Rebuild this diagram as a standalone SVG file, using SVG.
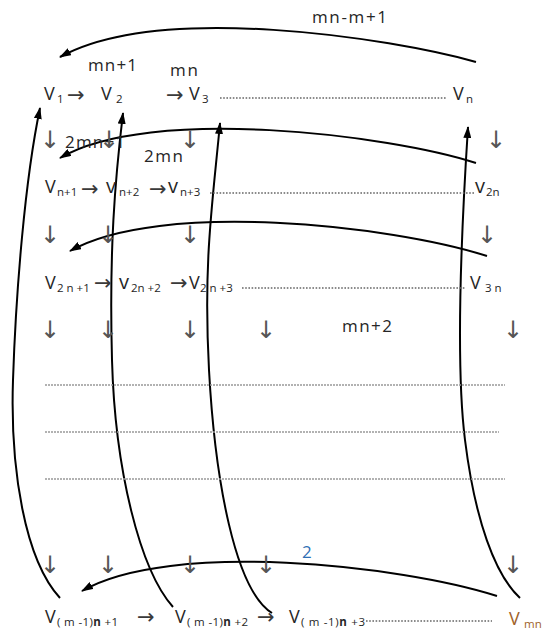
<svg xmlns="http://www.w3.org/2000/svg" width="544" height="631" viewBox="0 0 544 631">
<defs>
<marker id="ah" markerUnits="userSpaceOnUse" markerWidth="12" markerHeight="8" refX="11" refY="4" orient="auto">
<path d="M0,0 L12,4 L0,8 z" fill="#000"/>
</marker>
<style>
.v{font-family:"Open Sans","Noto Sans",sans-serif;font-size:18px;fill:#262626}
.s{font-family:"Open Sans","Noto Sans",sans-serif;font-size:11.5px;fill:#262626}
.ar{font-family:"DejaVu Sans",sans-serif;font-size:21px;fill:#3a3a3a}
.dn{font-family:"DejaVu Sans",sans-serif;font-size:24px;fill:#555;text-anchor:middle}
.lb{font-family:"Open Sans","Noto Sans",sans-serif;font-size:17px;fill:#262626}
.dot{stroke:#666;stroke-width:1.6;stroke-dasharray:1.6 1.6;fill:none}
.grid{stroke:#999;stroke-width:1.4;stroke-dasharray:2 1;fill:none}
.c{stroke:#000;stroke-width:2;fill:none;marker-end:url(#ah)}
</style>
</defs>
<rect width="544" height="631" fill="#fff"/>

<g id="connectors">
<path class="c" d="M476,62 C390,38 160,2 60,57"/>
<path class="c" d="M476,163 C390,135 150,105 60,158"/>
<path class="c" d="M487,256 C390,225 160,200 70,251"/>
<path class="c" d="M497,596 C400,565 170,540 82,591"/>
<path class="c" d="M60,598 C25,560 10,470 13,380 S25,180 40,108"/>
<path class="c" d="M173,607 C140,570 115,470 112,360 S115,180 123,113"/>
<path class="c" d="M272,613 C235,590 215,480 209,370 S213,200 220,123"/>
<path class="c" d="M520,598 C495,575 475,520 465,440 S462,220 468,127"/>
</g>

<g id="labels">
<text class="lb" x="312" y="23" textLength="75">mn-m+1</text>
<text class="lb" x="88" y="71" textLength="49">mn+1</text>
<text class="lb" x="170" y="76" textLength="28">mn</text>
<text class="lb" x="65" y="148" textLength="60">2mn+1</text>
<text class="lb" x="144" y="162" textLength="39">2mn</text>
<text class="lb" x="342" y="332" textLength="50">mn+2</text>
<text class="lb" x="302" y="558" style="fill:#2f6fb5">2</text>
</g>

<g id="row1">
<g id="v1"><text class="v" x="44" y="100">V</text><text class="s" x="57" y="103">1</text></g>
<text class="ar" x="67" y="102">→</text>
<g id="v2"><text class="v" x="101" y="100">V</text><text class="s" x="116" y="103">2</text></g>
<text class="ar" x="166" y="102">→</text>
<g id="v3"><text class="v" x="189" y="100">V</text><text class="s" x="202" y="103">3</text></g>
<line class="dot" x1="220" y1="98" x2="447" y2="98"/>
<g id="vn"><text class="v" x="453" y="100">V</text><text class="s" x="466" y="103">n</text></g>
</g>

<g id="down1">
<text class="dn" x="50" y="148">↓</text>
<text class="dn" x="109" y="148">↓</text>
<text class="dn" x="190" y="148">↓</text>
<text class="dn" x="496" y="148">↓</text>
</g>

<g id="row2">
<g id="vn1"><text class="v" x="45" y="193">V</text><text class="s" x="57" y="196">n+1</text></g>
<text class="ar" x="81" y="196">→</text>
<g id="vn2"><text class="v" x="106" y="193" style="font-size:20px">v</text><text class="s" x="119" y="196">n+2</text></g>
<text class="ar" x="149" y="196">→</text>
<g id="vn3"><text class="v" x="168" y="193" style="font-size:20px">v</text><text class="s" x="180" y="196">n+3</text></g>
<line class="dot" x1="210" y1="193" x2="474" y2="193"/>
<g id="v2n"><text class="v" x="475" y="193" style="font-size:20px">v</text><text class="s" x="486" y="196">2n</text></g>
</g>

<g id="down2">
<text class="dn" x="50" y="243">↓</text>
<text class="dn" x="108" y="243">↓</text>
<text class="dn" x="190" y="243">↓</text>
<text class="dn" x="487" y="243">↓</text>
</g>

<g id="row3">
<g id="v2n1"><text class="v" x="45" y="289">V</text><text class="s" x="57" y="292" xml:space="preserve">2 n +1</text></g>
<text class="ar" x="94" y="290">→</text>
<g id="v2n2"><text class="v" x="119" y="289" style="font-size:20px">v</text><text class="s" x="131" y="292" xml:space="preserve">2n +2</text></g>
<text class="ar" x="170" y="290">→</text>
<g id="v2n3"><text class="v" x="189" y="289">V</text><text class="s" x="200" y="292" xml:space="preserve">2 n +3</text></g>
<line class="dot" x1="242" y1="288" x2="465" y2="288"/>
<g id="v3n"><text class="v" x="470" y="289">V</text><text class="s" x="485" y="292" xml:space="preserve">3 n</text></g>
</g>

<g id="down3">
<text class="dn" x="50" y="338">↓</text>
<text class="dn" x="108" y="338">↓</text>
<text class="dn" x="190" y="338">↓</text>
<text class="dn" x="266" y="338">↓</text>
<text class="dn" x="513" y="338">↓</text>
</g>

<g id="gridlines">
<line class="grid" x1="45" y1="385" x2="505" y2="385"/>
<line class="grid" x1="45" y1="432" x2="499" y2="432"/>
<line class="grid" x1="45" y1="479" x2="505" y2="479"/>
</g>

<g id="down4">
<text class="dn" x="50" y="573">↓</text>
<text class="dn" x="108" y="573">↓</text>
<text class="dn" x="190" y="573">↓</text>
<text class="dn" x="266" y="573">↓</text>
<text class="dn" x="513" y="573">↓</text>
</g>

<g id="row4">
<g id="vm1"><text class="v" x="45" y="623">V</text><text class="s" x="57" y="626" textLength="61" xml:space="preserve">( m -1)<tspan font-weight="bold">n</tspan> +1</text></g>
<text class="ar" x="137" y="624">→</text>
<g id="vm2"><text class="v" x="175" y="623">V</text><text class="s" x="187" y="626" textLength="61" xml:space="preserve">( m -1)<tspan font-weight="bold">n</tspan> +2</text></g>
<text class="ar" x="257" y="624">→</text>
<g id="vm3"><text class="v" x="289" y="623">V</text><text class="s" x="301" y="626" textLength="64" xml:space="preserve">( m -1)<tspan font-weight="bold">n</tspan> +3</text></g>
<line class="dot" x1="366" y1="621" x2="492" y2="621"/>
<g id="vmn"><text class="v" x="509" y="625" style="fill:#a0622a">V</text><text class="s" x="524" y="628" style="fill:#a0622a">mn</text></g>
</g>
</svg>
